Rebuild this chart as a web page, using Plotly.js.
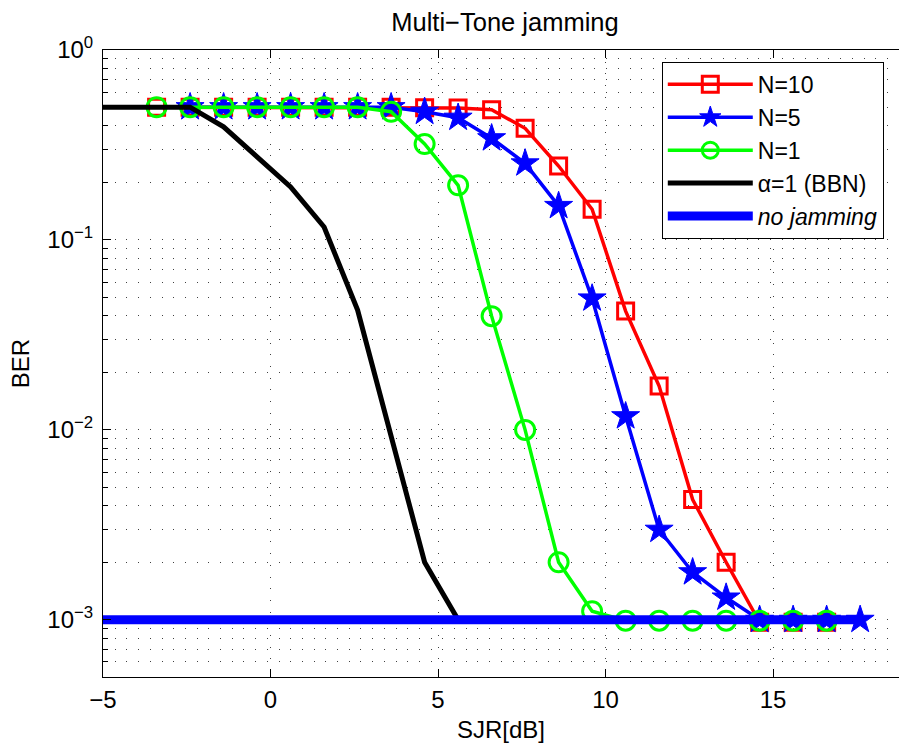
<!DOCTYPE html>
<html>
<head>
<meta charset="utf-8">
<script src="https://cdn.plot.ly/plotly-3.0.1.min.js"></script>
<style>
html, body { margin: 0; padding: 0; overflow: hidden; background: #fff; }
#chart { width: 899px; height: 743px; }
</style>
</head>
<body>
<div id="chart"></div>
<script>
// ---- data ----
const xN10 = [-3.4, -2.4, -1.4, -0.4, 0.6, 1.6, 2.6, 3.6, 4.6, 5.6, 6.6, 7.6, 8.6, 9.6, 10.6, 11.6, 12.6, 13.6, 14.6, 15.6, 16.6];
const berN10 = [0.5, 0.5, 0.5, 0.5, 0.5, 0.5, 0.5, 0.5, 0.497, 0.495, 0.485, 0.387, 0.245, 0.145, 0.0422, 0.017, 0.0043, 0.00201, 0.00097, 0.00097, 0.00097];

const xN5 = [-2.4, -1.4, -0.4, 0.6, 1.6, 2.6, 3.6, 4.6, 5.6, 6.6, 7.6, 8.6, 9.6, 10.6, 11.6, 12.6, 13.6, 14.6, 15.6, 16.6, 17.6];
const berN5 = [0.5, 0.5, 0.5, 0.5, 0.5, 0.5, 0.5, 0.473, 0.44, 0.343, 0.253, 0.151, 0.0492, 0.0118, 0.00298, 0.00178, 0.00131, 0.001, 0.001, 0.001, 0.001];

const xN1 = [-3.4, -2.4, -1.4, -0.4, 0.6, 1.6, 2.6, 3.6, 4.6, 5.6, 6.6, 7.6, 8.6, 9.6, 10.6, 11.6, 12.6, 13.6, 14.6, 15.6, 16.6];
const berN1 = [0.5, 0.5, 0.5, 0.5, 0.5, 0.5, 0.5, 0.473, 0.32, 0.194, 0.0397, 0.01, 0.00201, 0.00111, 0.00099, 0.00099, 0.00099, 0.00099, 0.00099, 0.00099, 0.00099];

const xBBN = [-5.4, -2.4, -1.4, 0.6, 1.6, 2.6, 4.6, 5.6];
const berBBN = [0.5, 0.5, 0.394, 0.19, 0.117, 0.0427, 0.00201, 0.001];

const xNoJam = [-5.4, 17.6];
const berNoJam = [0.001, 0.001];

const seriesNames = ['N=10', 'N=5', 'N=1', 'α=1 (BBN)', '<i>no jamming</i>'];
const yTickVals = [1, 0.1, 0.01, 0.001];
const yTickText = ['10<sup>0</sup>', '10<sup>\u22121</sup>', '10<sup>\u22122</sup>', '10<sup>\u22123</sup>'];
const yMinorVals = [];
[0.0001, 0.001, 0.01, 0.1].forEach(d => { for (let m = 2; m <= 9; m++) yMinorVals.push(m * d); });

const FONT = 'Liberation Sans, Arial, Helvetica, sans-serif';
const DOT = '1px,10.7px';

const traces = [
  { x: xN10, y: berN10, name: seriesNames[0], mode: 'lines+markers',
    line: { color: '#ff0000', width: 3.5 },
    marker: { symbol: 'square-open', size: 16, color: '#ff0000', line: { width: 3, color: '#ff0000' } } },
  { x: xN5, y: berN5, name: seriesNames[1], mode: 'lines+markers',
    line: { color: '#0000ff', width: 3.5 },
    marker: { symbol: 'star', size: 21, color: '#0000ff', line: { width: 1, color: '#0000ff' } } },
  { x: xN1, y: berN1, name: seriesNames[2], mode: 'lines+markers',
    line: { color: '#00ff00', width: 3.5 },
    marker: { symbol: 'circle-open', size: 19, color: '#00ff00', line: { width: 3, color: '#00ff00' } } },
  { x: xBBN, y: berBBN, name: seriesNames[3], mode: 'lines',
    line: { color: '#000000', width: 5 } },
  { x: xNoJam, y: berNoJam, name: seriesNames[4], mode: 'lines',
    line: { color: '#0000ff', width: 9 } }
];

const layout = {
  width: 899, height: 743,
  margin: { l: 103, r: 0, t: 50, b: 66 },
  paper_bgcolor: '#ffffff', plot_bgcolor: '#ffffff',
  font: { family: FONT, size: 24, color: '#000' },
  showlegend: true,
  title: { text: 'Multi\u2212Tone jamming', font: { family: FONT, size: 25.5, color: '#000' },
           x: 0.505, xref: 'paper', xanchor: 'center', y: 1 - 22 / 743, yref: 'container', yanchor: 'middle' },
  xaxis: {
    range: [-5, 18.76], tickvals: [-5, 0, 5, 10, 15], ticktext: ['\u22125', '0', '5', '10', '15'],
    showline: true, linecolor: '#000', linewidth: 1, mirror: 'ticks',
    ticks: 'inside', ticklen: 8, tickcolor: '#000', tickwidth: 1,
    showgrid: true, gridcolor: 'rgba(0,0,0,0.75)', gridwidth: 1, griddash: DOT,
    zeroline: false, ticklabelstandoff: 1,
    tickfont: { family: FONT, size: 24, color: '#000' },
    title: { text: 'SJR[dB]', font: { family: FONT, size: 24, color: '#000' }, standoff: 10 }
  },
  yaxis: {
    type: 'log', range: [Math.log10(0.0005), 0],
    tickvals: yTickVals, ticktext: yTickText,
    showline: true, linecolor: '#000', linewidth: 1, mirror: false,
    ticks: 'inside', ticklen: 8, tickcolor: '#000', tickwidth: 1,
    showgrid: true, gridcolor: 'rgba(0,0,0,0.75)', gridwidth: 1, griddash: DOT,
    zeroline: false, ticklabelstandoff: 4,
    minor: { tickvals: yMinorVals, ticks: 'inside', ticklen: 5, tickcolor: '#000',
             showgrid: true, gridcolor: 'rgba(0,0,0,0.75)', gridwidth: 1, griddash: DOT },
    tickfont: { family: FONT, size: 24, color: '#000' },
    title: { text: 'BER', font: { family: FONT, size: 24, color: '#000' }, standoff: 10 }
  },
  legend: {
    x: 0.702, y: 0.981, xanchor: 'left', yanchor: 'top',
    bgcolor: '#ffffff', bordercolor: '#000', borderwidth: 1,
    font: { family: FONT, size: 23, color: '#000' },
    itemwidth: 85, tracegroupgap: 0
  }
};

Plotly.newPlot('chart', traces, layout, { staticPlot: true, displayModeBar: false });
</script>
</body>
</html>
